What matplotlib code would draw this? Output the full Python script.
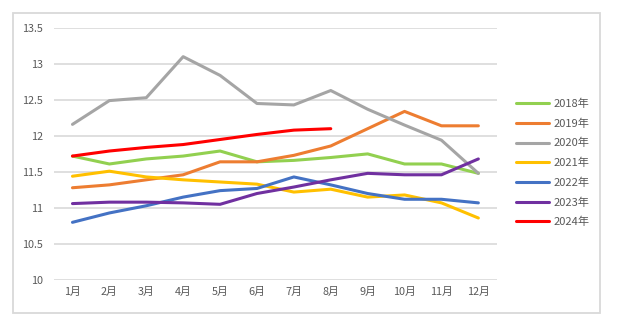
import matplotlib.pyplot as plt
from matplotlib.patches import Rectangle

plt.rcParams['font.family'] = ['Noto Sans CJK SC', 'DejaVu Sans']

months = ["1月", "2月", "3月", "4月", "5月", "6月", "7月", "8月", "9月", "10月", "11月", "12月"]

y2018 = [11.72, 11.61, 11.68, 11.72, 11.79, 11.64, 11.66, 11.70, 11.75, 11.61, 11.61, 11.48]
y2019 = [11.28, 11.32, 11.39, 11.46, 11.64, 11.64, 11.73, 11.86, 12.10, 12.34, 12.14, 12.14]
y2020 = [12.16, 12.49, 12.53, 13.10, 12.84, 12.45, 12.43, 12.63, 12.37, 12.15, 11.94, 11.48]
y2021 = [11.44, 11.51, 11.43, 11.39, 11.36, 11.33, 11.22, 11.26, 11.15, 11.18, 11.07, 10.86]
y2022 = [10.80, 10.93, 11.03, 11.15, 11.24, 11.27, 11.43, 11.32, 11.20, 11.12, 11.12, 11.07]
y2023 = [11.06, 11.08, 11.08, 11.07, 11.05, 11.20, 11.29, 11.39, 11.48, 11.46, 11.46, 11.68]
y2024 = [11.72, 11.79, 11.84, 11.88, 11.95, 12.02, 12.08, 12.10]

series = [
    ("2018年", y2018, "#92D050"),
    ("2019年", y2019, "#ED7D31"),
    ("2020年", y2020, "#A5A5A5"),
    ("2021年", y2021, "#FFC000"),
    ("2022年", y2022, "#4472C4"),
    ("2023年", y2023, "#7030A0"),
    ("2024年", y2024, "#FF0000"),
]

fig = plt.figure(figsize=(6.21, 3.24), dpi=100)
ax = fig.add_axes([0.087, 0.136, 0.713, 0.778])

x = list(range(1, 13))
for label, vals, color in series:
    ax.plot(x[:len(vals)], vals, color=color, linewidth=2.2, label=label,
            solid_capstyle="round", solid_joinstyle="round")

ax.set_xlim(0.5, 12.5)
ax.set_ylim(10, 13.5)
ax.set_yticks([10, 10.5, 11, 11.5, 12, 12.5, 13, 13.5])
ax.set_yticklabels(["10", "10.5", "11", "11.5", "12", "12.5", "13", "13.5"])
ax.set_xticks(x)
ax.set_xticklabels(months)
ax.tick_params(axis="both", length=0, labelsize=7.8, labelcolor="#595959")
ax.tick_params(axis="y", pad=8)
ax.tick_params(axis="x", pad=5)
ax.grid(axis="y", color="#D9D9D9", linewidth=1.2)
ax.set_axisbelow(True)
for s in ax.spines.values():
    s.set_visible(False)

# outer chart border
fig.patches.append(Rectangle((13 / 621, 11 / 324), 587 / 621, 300 / 324,
                             transform=fig.transFigure, fill=False,
                             edgecolor="#D9D9D9", linewidth=1.3))

fig.legend(loc="center left", bbox_to_anchor=(0.822, 0.497), frameon=False,
           fontsize=8, handlelength=3.0, labelspacing=0.84, borderpad=0,
           handletextpad=0.4, labelcolor="#595959")

fig.savefig("out.png", dpi=100)
